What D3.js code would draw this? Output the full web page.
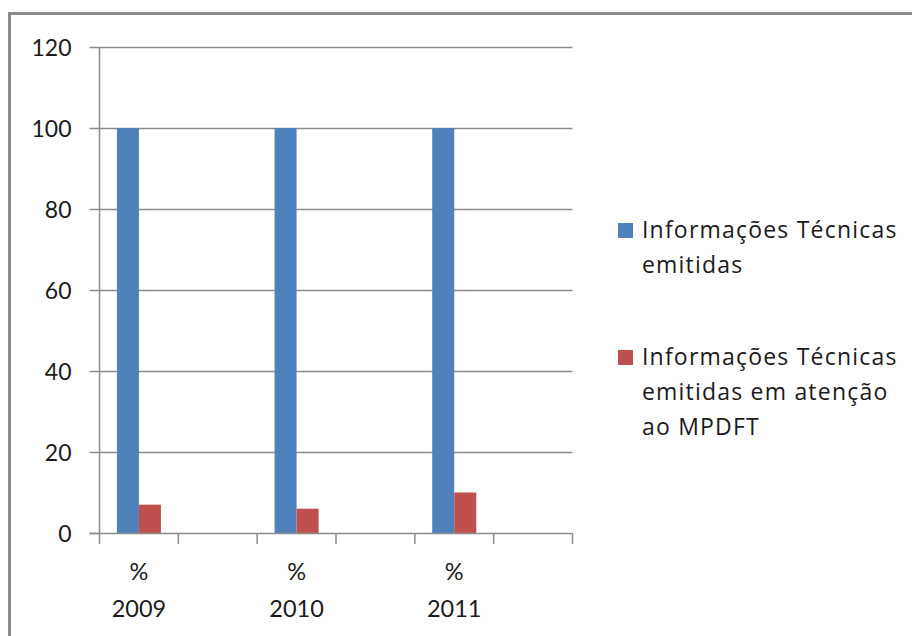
<!DOCTYPE html>
<html>
<head>
<meta charset="utf-8">
<script src="https://cdn.jsdelivr.net/npm/d3@7"></script>
<style>
  html, body { margin: 0; padding: 0; background: #fff; }
  svg { display: block; font-family: Lato, "Open Sans", sans-serif; }
</style>
</head>
<body>
<svg id="chart" width="912" height="636"></svg>
<script>
// Category slots along the x axis (blank slots sit between the years)
const categories = ["2009", "gap1", "2010", "gap2", "2011", "gap3"];
const categoryLabels = { "2009": ["%", "2009"], "2010": ["%", "2010"], "2011": ["%", "2011"] };
const years = ["2009", "2010", "2011"];

// Series values (percent)
const seriesNames = [
  "Informações Técnicas emitidas",
  "Informações Técnicas emitidas em atenção ao MPDFT"
];
const emitidas = [100, 100, 100];
const emAtencaoMPDFT = [7, 6, 10];

const yTicks = [0, 20, 40, 60, 80, 100, 120];

const colors = ["#4F81BD", "#C0504D"];
const legendLines = [
  ["Informações Técnicas", "emitidas"],
  ["Informações Técnicas", "emitidas em atenção", "ao MPDFT"]
];

const svg = d3.select("#chart");

// Outer chart frame (top and left edges visible)
svg.append("path")
  .attr("d", "M9.5,640 L9.5,13.5 L915,13.5")
  .attr("fill", "none")
  .attr("stroke", "#8a8a8a")
  .attr("stroke-width", 3);

const plot = { left: 99.5, right: 572.5, top: 47, bottom: 533 };

const x = d3.scaleBand().domain(categories).range([plot.left, plot.right]).padding(0);
const xInner = d3.scaleBand().domain([0, 1]).range([0, x.bandwidth()])
  .paddingInner(0).paddingOuter(0.79);
const y = d3.scaleLinear().domain([0, 120]).range([plot.bottom, plot.top]);

// Horizontal gridlines
svg.append("g")
  .selectAll("line")
  .data(yTicks.filter(t => t > 0))
  .join("line")
  .attr("x1", plot.left).attr("x2", plot.right)
  .attr("y1", d => Math.round(y(d)) + 0.5).attr("y2", d => Math.round(y(d)) + 0.5)
  .attr("stroke", "#8c8c8c").attr("stroke-width", 1.5);

// Y axis
const yAxis = svg.append("g")
  .attr("transform", `translate(${plot.left},0)`)
  .call(d3.axisLeft(y).tickValues(yTicks).tickSize(10).tickPadding(18).tickFormat(d3.format("d")));
yAxis.selectAll("line, path").attr("stroke", "#8c8c8c").attr("stroke-width", 1.5);
yAxis.select(".domain").attr("d", `M0,${plot.top}V${plot.bottom}`);
yAxis.selectAll("text")
  .attr("font-size", 23).attr("fill", "#1a1a1a")
  .attr("font-family", "Lato, sans-serif")
  .attr("dy", "0.36em");

// Bars
const data = years.map((yr, i) => ({ year: yr, values: [emitidas[i], emAtencaoMPDFT[i]] }));
const groups = svg.append("g").selectAll("g")
  .data(data)
  .join("g")
  .attr("transform", d => `translate(${x(d.year)},0)`);
groups.selectAll("rect")
  .data(d => d.values.map((v, k) => ({ v, k })))
  .join("rect")
  .attr("x", d => xInner(d.k))
  .attr("width", xInner.bandwidth())
  .attr("y", d => y(d.v))
  .attr("height", d => y(0) - y(d.v))
  .attr("fill", d => colors[d.k]);

// X axis
const xAxis = svg.append("g")
  .attr("transform", `translate(0,${plot.bottom})`)
  .call(d3.axisBottom(x).tickSize(0).tickFormat(""));
xAxis.select(".domain")
  .attr("d", `M${plot.left - 10},0.5H${plot.right}`)
  .attr("stroke", "#8c8c8c").attr("stroke-width", 1.5);
xAxis.selectAll(".tick").remove();

// Tick marks on category boundaries
const boundaries = categories.map(c => x(c)).concat([plot.right]);
svg.append("g").selectAll("line")
  .data(boundaries)
  .join("line")
  .attr("x1", d => d).attr("x2", d => d)
  .attr("y1", plot.bottom).attr("y2", plot.bottom + 11)
  .attr("stroke", "#8c8c8c").attr("stroke-width", 1.5);

// Category labels (two lines each)
const catLabels = svg.append("g").selectAll("text")
  .data(years)
  .join("text")
  .attr("x", d => x(d) + x.bandwidth() / 2)
  .attr("text-anchor", "middle")
  .attr("font-size", 23.5)
  .attr("fill", "#1a1a1a");
catLabels.selectAll("tspan")
  .data(d => categoryLabels[d])
  .join("tspan")
  .attr("x", function () { return d3.select(this.parentNode).attr("x"); })
  .attr("y", (d, i) => 580 + i * 37)
  .text(d => d);

// Legend
const legendTop = [238, 365];
const legend = svg.append("g").selectAll("g")
  .data(seriesNames)
  .join("g");
legend.append("rect")
  .attr("x", 618)
  .attr("y", (d, i) => legendTop[i] - 15)
  .attr("width", 15).attr("height", 15)
  .attr("fill", (d, i) => colors[i]);
legend.append("text")
  .attr("font-size", 23)
  .attr("letter-spacing", 1.2)
  .attr("font-family", "'Open Sans', sans-serif")
  .attr("fill", "#1a1a1a")
  .selectAll("tspan")
  .data((d, i) => legendLines[i].map(t => ({ t, i })))
  .join("tspan")
  .attr("x", 642)
  .attr("y", (d, j) => legendTop[d.i] + j * 35)
  .text(d => d.t);
</script>
</body>
</html>
